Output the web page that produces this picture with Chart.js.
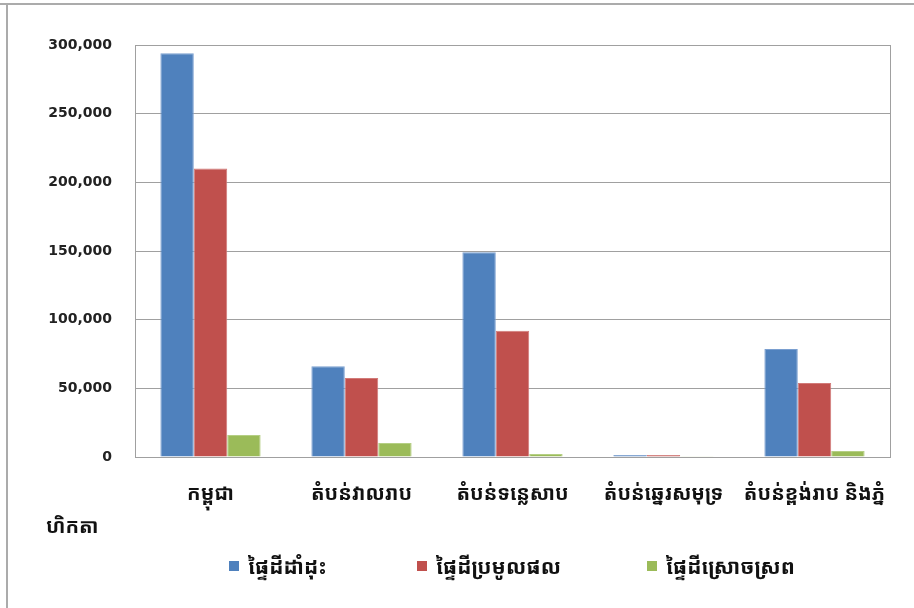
<!DOCTYPE html>
<html>
<head>
<meta charset="utf-8">
<script src="https://cdn.jsdelivr.net/npm/chart.js@4/dist/chart.umd.min.js"></script>
<style>
  html, body { margin: 0; padding: 0; background: #fff; }
  #areaChart { display: block; }
</style>
</head>
<body>
<canvas id="areaChart" width="914" height="608"></canvas>
<script>
// Regions and land areas (hectares)
const regions = ['កម្ពុជា', 'តំបន់វាលរាប', 'តំបន់ទន្លេសាប', 'តំបន់ឆ្នេរសមុទ្រ', 'តំបន់ខ្ពង់រាប និងភ្នំ'];
const seriesNames = ['ផ្ទៃដីដាំដុះ', 'ផ្ទៃដីប្រមូលផល', 'ផ្ទៃដីស្រោចស្រព'];
const cultivated = [294000, 66000, 149000, 1500, 78600];
const harvested = [210000, 57500, 92000, 1400, 53900];
const irrigated = [16000, 10200, 2200, 100, 4400];
const unitLabel = 'ហិកតា';

const khmerFont = '"Noto Sans Khmer", "Khmer OS", "DejaVu Sans", sans-serif';
const colors = ['#4F81BD', '#C0504D', '#9BBB59'];
const edges = ['#7A9FD0', '#D27A78', '#B5CF84'];

// outer frame, unit label and legend
const decorations = {
    id: 'decorations',
    afterDraw(chart) {
        const c = chart.ctx;
        c.save();
        c.strokeStyle = '#ababab';
        c.lineWidth = 2;
        c.beginPath();
        c.moveTo(0, 4);
        c.lineTo(914, 4);
        c.moveTo(7, 4);
        c.lineTo(7, 608);
        c.stroke();

        c.fillStyle = '#111';
        c.font = 'bold 20px ' + khmerFont;
        c.textBaseline = 'middle';
        c.textAlign = 'left';
        c.fillText(unitLabel, 46, 527);

        // legend
        const legendX = [229, 417, 647];
        chart.data.datasets.forEach((ds, i) => {
            c.fillStyle = ds.backgroundColor;
            c.fillRect(legendX[i], 561, 10, 10);
            c.fillStyle = '#111';
            c.font = 'bold 21px ' + khmerFont;
            c.fillText(ds.label, legendX[i] + 19, 568);
        });
        c.restore();
    }
};

const chartCtx = document.getElementById('areaChart').getContext('2d');
const areaChart = new Chart(chartCtx, {
    type: 'bar',
    data: {
        labels: regions,
        datasets: [
            { label: seriesNames[0], data: cultivated, backgroundColor: colors[0], borderColor: edges[0], borderWidth: 1 },
            { label: seriesNames[1], data: harvested, backgroundColor: colors[1], borderColor: edges[1], borderWidth: 1 },
            { label: seriesNames[2], data: irrigated, backgroundColor: colors[2], borderColor: edges[2], borderWidth: 1 }
        ]
    },
    options: {
        responsive: false,
        animation: false,
        layout: { padding: { top: 45, right: 24, bottom: 0, left: 0 } },
        datasets: { bar: { categoryPercentage: 0.664, barPercentage: 1 } },
        plugins: {
            legend: { display: false },
            tooltip: { enabled: false }
        },
        scales: {
            x: {
                grid: { display: false, drawTicks: false },
                border: { display: true, color: '#a0a0a0', width: 1 },
                ticks: {
                    color: '#111',
                    padding: 25,
                    maxRotation: 0,
                    autoSkip: false,
                    font: { family: khmerFont, size: 20, weight: 'bold' }
                },
                afterFit(scale) { scale.height = 151; }
            },
            y: {
                min: 0,
                max: 300000,
                grid: { color: '#a0a0a0', lineWidth: 1, drawTicks: false },
                border: { display: true, color: '#a0a0a0', width: 1 },
                ticks: {
                    stepSize: 50000,
                    color: '#222',
                    padding: 23,
                    font: { family: '"DejaVu Sans", sans-serif', size: 14, weight: 'bold' },
                    callback: v => v.toLocaleString('en-US')
                },
                afterFit(scale) { scale.width = 135; }
            }
        }
    },
    plugins: [decorations, {
        id: 'plotBox',
        afterDraw(chart) {
            const a = chart.chartArea, c = chart.ctx;
            c.save();
            c.strokeStyle = '#a0a0a0';
            c.lineWidth = 1;
            c.strokeRect(a.left + 0.5, a.top + 0.5, a.right - a.left, a.bottom - a.top);
            c.restore();
        }
    }]
});
</script>
</body>
</html>
